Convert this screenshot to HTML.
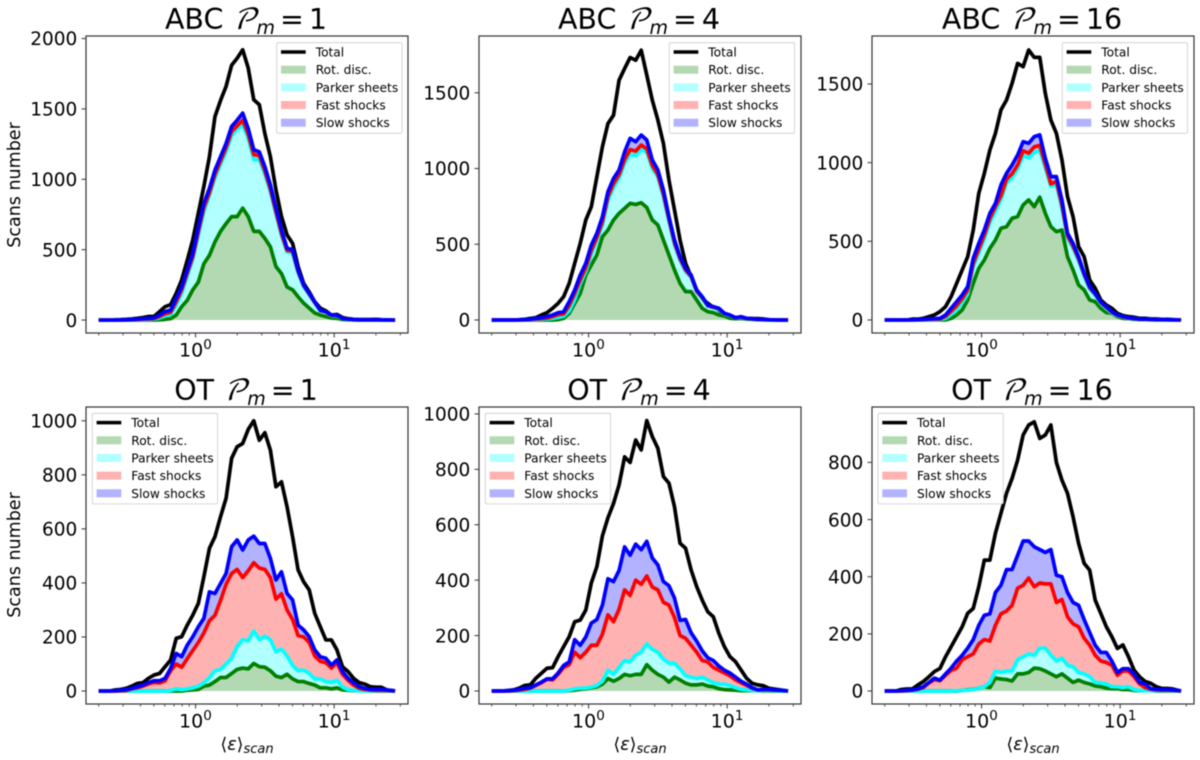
<!DOCTYPE html>
<html lang="en">
<head>
<meta charset="utf-8">
<title>Scans number histograms</title>
<style>
html,body{margin:0;padding:0;background:#fff;width:1200px;height:760px;overflow:hidden}
svg{display:block;filter:blur(0.45px)}
text{font-family:"DejaVu Sans","Liberation Sans",sans-serif;fill:#000}
.t{font-size:28.5px;text-anchor:middle}
.p{font-family:"DejaVu Math TeX Gyre","Liberation Serif",serif;font-style:italic}
.m{font-style:oblique}
.yl{font-size:17.5px;text-anchor:middle}
.xl{font-size:17.5px;text-anchor:middle}
.lg text{font-size:12.2px}
.lbox{fill:#fff;fill-opacity:.8;stroke:#ccc;stroke-width:.8}
.spine{fill:none;stroke:#333;stroke-width:1.2}
</style>
</head>
<body>
<svg id="chart" width="1200" height="760" viewBox="0 0 1200 760" xmlns="http://www.w3.org/2000/svg">

<g>
<g id="marks-abc1"></g>
<rect class="spine" x="86" y="36" width="322" height="297"/>
<g id="ticks-abc1"></g>
<text class="t" x="246" y="29">ABC <tspan class="p">𝒫</tspan><tspan class="m" font-size="19" dy="5">m</tspan><tspan dy="-5" dx="5">=</tspan><tspan dx="5">1</tspan></text>
<text class="yl" transform="translate(20,185) rotate(-90)">Scans number</text>
<g class="lg" transform="translate(276.7,42.7)">
<rect class="lbox" width="125.3" height="90.6" rx="1.5"/>
<line x1="4.3" x2="29" y1="9.3" y2="9.3" stroke="#000" stroke-width="3.5"/><text x="39" y="13.8">Total</text>
<rect x="4.3" y="23" width="24.7" height="8" fill="#008000" fill-opacity=".3"/><text x="39" y="31.5">Rot. disc.</text>
<rect x="4.3" y="40.6" width="24.7" height="8" fill="#00ffff" fill-opacity=".3"/><text x="39" y="49.1">Parker sheets</text>
<rect x="4.3" y="58.3" width="24.7" height="8" fill="#ff0000" fill-opacity=".3"/><text x="39" y="66.8">Fast shocks</text>
<rect x="4.3" y="76" width="24.7" height="8" fill="#0000ff" fill-opacity=".3"/><text x="39" y="84.5">Slow shocks</text>
</g>
</g>

<g>
<g id="marks-abc4"></g>
<rect class="spine" x="479" y="36" width="322" height="297"/>
<g id="ticks-abc4"></g>
<text class="t" x="639" y="29">ABC <tspan class="p">𝒫</tspan><tspan class="m" font-size="19" dy="5">m</tspan><tspan dy="-5" dx="5">=</tspan><tspan dx="5">4</tspan></text>
<g class="lg" transform="translate(669.3,42.7)">
<rect class="lbox" width="125.3" height="90.6" rx="1.5"/>
<line x1="4.3" x2="29" y1="9.3" y2="9.3" stroke="#000" stroke-width="3.5"/><text x="39" y="13.8">Total</text>
<rect x="4.3" y="23" width="24.7" height="8" fill="#008000" fill-opacity=".3"/><text x="39" y="31.5">Rot. disc.</text>
<rect x="4.3" y="40.6" width="24.7" height="8" fill="#00ffff" fill-opacity=".3"/><text x="39" y="49.1">Parker sheets</text>
<rect x="4.3" y="58.3" width="24.7" height="8" fill="#ff0000" fill-opacity=".3"/><text x="39" y="66.8">Fast shocks</text>
<rect x="4.3" y="76" width="24.7" height="8" fill="#0000ff" fill-opacity=".3"/><text x="39" y="84.5">Slow shocks</text>
</g>
</g>

<g>
<g id="marks-abc16"></g>
<rect class="spine" x="872" y="36" width="322" height="297"/>
<g id="ticks-abc16"></g>
<text class="t" x="1032" y="29">ABC <tspan class="p">𝒫</tspan><tspan class="m" font-size="19" dy="5">m</tspan><tspan dy="-5" dx="5">=</tspan><tspan dx="5">16</tspan></text>
<g class="lg" transform="translate(1062.3,42.7)">
<rect class="lbox" width="125.3" height="90.6" rx="1.5"/>
<line x1="4.3" x2="29" y1="9.3" y2="9.3" stroke="#000" stroke-width="3.5"/><text x="39" y="13.8">Total</text>
<rect x="4.3" y="23" width="24.7" height="8" fill="#008000" fill-opacity=".3"/><text x="39" y="31.5">Rot. disc.</text>
<rect x="4.3" y="40.6" width="24.7" height="8" fill="#00ffff" fill-opacity=".3"/><text x="39" y="49.1">Parker sheets</text>
<rect x="4.3" y="58.3" width="24.7" height="8" fill="#ff0000" fill-opacity=".3"/><text x="39" y="66.8">Fast shocks</text>
<rect x="4.3" y="76" width="24.7" height="8" fill="#0000ff" fill-opacity=".3"/><text x="39" y="84.5">Slow shocks</text>
</g>
</g>

<g>
<g id="marks-ot1"></g>
<rect class="spine" x="86" y="407" width="322" height="297"/>
<g id="ticks-ot1"></g>
<text class="t" x="246" y="400">OT <tspan class="p">𝒫</tspan><tspan class="m" font-size="19" dy="5">m</tspan><tspan dy="-5" dx="5">=</tspan><tspan dx="5">1</tspan></text>
<text class="yl" transform="translate(20,555) rotate(-90)">Scans number</text>
<text class="xl" x="247" y="750">⟨<tspan class="m">ε</tspan>⟩<tspan class="m" font-size="13" dy="3">scan</tspan></text>
<g class="lg" transform="translate(92.3,413.3)">
<rect class="lbox" width="125.3" height="90.6" rx="1.5"/>
<line x1="4.3" x2="29" y1="9.3" y2="9.3" stroke="#000" stroke-width="3.5"/><text x="39" y="13.8">Total</text>
<rect x="4.3" y="23" width="24.7" height="8" fill="#008000" fill-opacity=".3"/><text x="39" y="31.5">Rot. disc.</text>
<rect x="4.3" y="40.6" width="24.7" height="8" fill="#00ffff" fill-opacity=".3"/><text x="39" y="49.1">Parker sheets</text>
<rect x="4.3" y="58.3" width="24.7" height="8" fill="#ff0000" fill-opacity=".3"/><text x="39" y="66.8">Fast shocks</text>
<rect x="4.3" y="76" width="24.7" height="8" fill="#0000ff" fill-opacity=".3"/><text x="39" y="84.5">Slow shocks</text>
</g>
</g>

<g>
<g id="marks-ot4"></g>
<rect class="spine" x="479" y="407" width="322" height="297"/>
<g id="ticks-ot4"></g>
<text class="t" x="639" y="400">OT <tspan class="p">𝒫</tspan><tspan class="m" font-size="19" dy="5">m</tspan><tspan dy="-5" dx="5">=</tspan><tspan dx="5">4</tspan></text>
<text class="xl" x="640" y="750">⟨<tspan class="m">ε</tspan>⟩<tspan class="m" font-size="13" dy="3">scan</tspan></text>
<g class="lg" transform="translate(485.3,413.3)">
<rect class="lbox" width="125.3" height="90.6" rx="1.5"/>
<line x1="4.3" x2="29" y1="9.3" y2="9.3" stroke="#000" stroke-width="3.5"/><text x="39" y="13.8">Total</text>
<rect x="4.3" y="23" width="24.7" height="8" fill="#008000" fill-opacity=".3"/><text x="39" y="31.5">Rot. disc.</text>
<rect x="4.3" y="40.6" width="24.7" height="8" fill="#00ffff" fill-opacity=".3"/><text x="39" y="49.1">Parker sheets</text>
<rect x="4.3" y="58.3" width="24.7" height="8" fill="#ff0000" fill-opacity=".3"/><text x="39" y="66.8">Fast shocks</text>
<rect x="4.3" y="76" width="24.7" height="8" fill="#0000ff" fill-opacity=".3"/><text x="39" y="84.5">Slow shocks</text>
</g>
</g>

<g>
<g id="marks-ot16"></g>
<rect class="spine" x="872" y="407" width="322" height="297"/>
<g id="ticks-ot16"></g>
<text class="t" x="1032" y="400">OT <tspan class="p">𝒫</tspan><tspan class="m" font-size="19" dy="5">m</tspan><tspan dy="-5" dx="5">=</tspan><tspan dx="5">16</tspan></text>
<text class="xl" x="1033" y="750">⟨<tspan class="m">ε</tspan>⟩<tspan class="m" font-size="13" dy="3">scan</tspan></text>
<g class="lg" transform="translate(878,413.3)">
<rect class="lbox" width="125.3" height="90.6" rx="1.5"/>
<line x1="4.3" x2="29" y1="9.3" y2="9.3" stroke="#000" stroke-width="3.5"/><text x="39" y="13.8">Total</text>
<rect x="4.3" y="23" width="24.7" height="8" fill="#008000" fill-opacity=".3"/><text x="39" y="31.5">Rot. disc.</text>
<rect x="4.3" y="40.6" width="24.7" height="8" fill="#00ffff" fill-opacity=".3"/><text x="39" y="49.1">Parker sheets</text>
<rect x="4.3" y="58.3" width="24.7" height="8" fill="#ff0000" fill-opacity=".3"/><text x="39" y="66.8">Fast shocks</text>
<rect x="4.3" y="76" width="24.7" height="8" fill="#0000ff" fill-opacity=".3"/><text x="39" y="84.5">Slow shocks</text>
</g>
</g>
</svg>

<script>
const binCenters = [0.200,0.219,0.240,0.263,0.288,0.316,0.347,0.380,0.417,0.457,
0.501,0.550,0.603,0.661,0.725,0.794,0.871,0.955,1.047,1.148,
1.259,1.380,1.514,1.660,1.820,1.995,2.188,2.399,2.630,2.884,
3.162,3.467,3.802,4.169,4.571,5.012,5.495,6.026,6.607,7.244,
7.943,8.710,9.550,10.47,11.48,12.59,13.80,15.14,16.60,18.20,
19.95,21.88,23.99,26.30,27.50];
const xDomain = [0.162,34.1];
const xMajorTicks = [1,10];
const xMajorExponents = ['0','1'];
const xMinorTicks = [0.2,0.3,0.4,0.5,0.6,0.7,0.8,0.9,2,3,4,5,6,7,8,9,20,30];

const abc1YDomain = [-92,2018];
const abc4YDomain = [-86,1875];
const abc16YDomain = [-83,1805];
const ot1YDomain = [-48,1051];
const ot4YDomain = [-47,1025];
const ot16YDomain = [-45.5,994];
const abc1YTicks = [0,500,1000,1500,2000];
const abc4YTicks = [0,500,1000,1500];
const abc16YTicks = [0,500,1000,1500];
const ot1YTicks = [0,200,400,600,800,1000];
const ot4YTicks = [0,200,400,600,800,1000];
const ot16YTicks = [0,200,400,600,800];

const abc1Total = [0,0,0,2,3,5,8,12,18,25,
25,60,95,110,190,285,425,570,760,950,
1160,1445,1560,1660,1810,1860,1920,1790,1565,1530,
1325,1160,925,735,605,545,380,260,200,130,
85,65,35,40,18,10,5,3,3,3,
5,2,1,0,0];
const abc1Slow = [0,0,0,0,1,2,4,6,10,12,
15,35,60,70,155,235,355,475,660,830,
935,1065,1160,1255,1375,1420,1470,1360,1210,1195,
1090,960,795,640,510,500,355,250,190,130,
70,60,35,35,12,8,4,2,2,2,
3,1,1,0,0];
const abc1Fast = [0,0,0,0,0,1,2,4,6,8,
10,25,45,55,130,215,335,450,630,800,
905,1035,1130,1225,1340,1380,1420,1320,1175,1170,
1060,930,770,615,495,490,345,245,185,125,
68,58,33,33,12,8,4,2,2,2,
3,1,1,0,0];
const abc1Parker = [0,0,0,0,0,0,1,2,3,4,
6,15,30,40,105,190,310,430,600,770,
885,1010,1105,1195,1310,1355,1385,1290,1140,1140,
1035,910,755,600,485,475,335,235,180,120,
65,55,30,30,10,6,3,2,1,1,
1,0,0,0,0];
const abc1Rot = [0,0,0,0,0,0,0,0,0,0,
0,2,5,10,35,95,140,215,270,400,
460,555,630,685,735,735,795,735,630,630,
580,520,380,330,235,215,165,120,85,50,
35,25,15,12,4,2,1,0,0,0,
0,0,0,0,0];

const abc4Total = [0,0,0,0,0,2,4,10,15,33,
48,77,110,154,242,374,506,660,748,946,
1144,1297,1352,1583,1660,1733,1715,1781,1617,1451,
1320,1166,924,726,528,374,286,198,143,110,
84,66,33,26,15,15,11,9,9,7,
2,1,0,0,0];
const abc4Slow = [0,0,0,0,0,1,3,5,10,15,
22,33,48,55,121,198,297,374,495,572,
682,847,935,990,1110,1199,1177,1221,1188,1056,
990,858,682,528,418,341,297,198,154,99,
88,77,44,33,15,22,11,9,4,4,
2,1,0,0,0];
const abc4Fast = [0,0,0,0,0,0,1,3,6,9,
12,22,35,40,95,175,265,345,460,545,
650,815,900,960,1060,1125,1115,1155,1130,1020,
960,830,665,510,405,330,288,190,148,95,
84,75,42,32,15,20,10,8,4,3,
2,1,0,0,0];
const abc4Parker = [0,0,0,0,0,0,0,1,2,4,
6,10,18,25,60,135,240,320,430,525,
625,790,875,935,1035,1095,1085,1125,1110,1000,
945,815,650,495,395,320,280,185,140,90,
80,70,40,30,14,18,9,7,3,2,
1,1,0,0,0];
const abc4Rot = [0,0,0,0,0,0,0,0,0,0,
0,0,2,11,44,110,176,297,363,429,
550,594,660,704,737,770,763,774,743,660,
627,528,429,330,242,187,187,132,77,55,
48,33,26,11,8,10,6,4,2,1,
0,0,0,0,0];

const abc16Total = [0,0,0,0,0,5,5,10,21,32,
53,85,148,233,318,402,572,805,932,1080,
1186,1335,1398,1504,1631,1610,1716,1669,1669,1440,
1271,1186,1017,784,657,466,402,254,201,127,
95,74,42,28,21,17,10,10,6,6,
4,4,2,1,0];
const abc16Slow = [0,0,0,0,0,1,2,4,6,8,
10,32,74,116,159,212,392,487,572,678,
741,858,932,985,1048,1133,1123,1165,1176,1027,
911,911,763,551,487,402,297,212,169,116,
85,53,32,22,14,10,6,5,4,3,
3,2,1,1,0];
const abc16Fast = [0,0,0,0,0,0,1,2,4,5,
6,22,55,90,135,190,360,450,540,645,
720,790,895,930,985,1075,1060,1100,1110,990,
865,880,730,535,470,390,290,205,165,112,
80,50,30,20,12,9,5,4,3,2,
2,1,1,0,0];
const abc16Parker = [0,0,0,0,0,0,0,0,1,2,
3,10,35,65,110,165,335,425,515,620,
690,765,870,905,960,1045,1030,1065,1080,965,
850,860,710,520,455,375,280,195,155,105,
72,45,27,18,10,7,4,3,2,1,
1,1,0,0,0];
const abc16Rot = [0,0,0,0,0,0,0,0,0,0,
0,0,10,32,64,127,233,328,381,455,
508,583,593,646,657,731,763,720,780,678,
593,561,572,402,318,222,191,127,116,74,
47,42,21,10,8,4,3,2,1,0,
0,0,0,0,0];

const ot1Total = [0,0,0,4,6,10,18,28,31,47,
59,65,90,115,195,201,244,281,324,423,
528,571,645,713,861,904,916,968,1000,928,
956,891,756,774,682,571,448,404,374,287,
238,189,189,152,90,72,47,31,26,16,
14,14,4,1,0];
const ot1Slow = [0,0,0,1,3,6,10,16,22,31,
38,38,47,84,139,127,170,201,238,269,
367,361,398,435,534,559,522,559,573,546,
546,491,411,441,361,337,244,226,201,152,
127,121,96,115,72,47,31,16,10,6,
6,6,4,2,0];
const ot1Fast = [0,0,0,0,1,2,8,12,18,26,
32,30,38,75,100,88,120,150,180,215,
260,280,335,395,435,450,420,445,475,455,
450,420,340,360,300,265,205,200,180,130,
110,105,85,105,62,40,22,10,6,4,
3,3,2,1,0];
const ot1Parker = [0,0,0,0,0,0,0,0,0,0,
0,0,0,2,8,5,8,12,18,30,
50,75,80,100,121,165,190,186,222,190,
203,190,145,155,130,95,75,78,65,45,
45,35,32,40,15,5,3,1,1,1,
1,1,0,0,0];
const ot1Rot = [0,0,0,0,0,0,0,0,0,0,
0,0,0,0,0,0,3,4,6,18,
22,35,50,50,65,80,85,82,102,90,
88,75,55,50,62,45,35,35,28,22,
12,12,8,12,4,3,2,1,1,0,
0,0,0,0,0];

const ot4Total = [0,0,0,2,4,10,20,22,46,64,
82,84,124,160,196,250,256,292,390,449,
560,625,677,744,845,825,906,870,976,918,
876,774,750,665,533,515,437,377,328,286,
268,208,160,124,106,76,46,28,22,19,
10,7,4,1,0];
const ot4Slow = [0,0,0,1,3,6,10,12,22,32,
44,44,65,92,105,185,165,195,245,258,
310,405,395,435,520,490,530,510,540,480,
455,395,380,335,255,258,210,180,145,120,
110,90,75,65,50,35,25,12,4,6,
6,4,3,1,0];
const ot4Fast = [0,0,0,0,1,3,6,10,20,30,
42,40,60,85,95,140,120,140,165,165,
205,275,250,295,365,345,400,385,415,375,
365,320,310,265,200,190,165,140,110,105,
85,75,65,55,40,30,20,10,4,4,
4,3,2,1,0];
const ot4Parker = [0,0,0,0,0,0,0,0,0,0,
0,0,0,0,3,8,10,10,14,20,
35,75,60,85,110,105,130,140,170,150,
140,115,100,100,80,55,50,45,50,40,
30,25,25,20,12,6,4,2,1,1,
1,1,0,0,0];
const ot4Rot = [0,0,0,0,0,0,0,0,0,0,
0,0,0,0,1,3,6,8,12,15,
25,45,35,45,60,55,60,60,95,75,
60,50,32,50,40,28,22,22,25,18,
15,8,5,4,3,1,1,1,1,0,
0,0,0,0,0];

const ot16Total = [0,0,0,5,7,7,21,33,50,68,
79,120,155,190,225,272,289,365,458,458,
552,622,692,744,808,896,931,942,884,896,
931,800,738,692,610,517,447,423,318,272,
225,190,149,161,120,73,50,33,27,15,
9,9,7,2,0];
const ot16Slow = [0,0,0,1,3,4,8,15,30,45,
38,60,80,105,125,150,180,230,265,270,
345,370,425,425,475,525,525,505,495,485,
495,405,400,345,310,300,250,205,160,135,
135,105,65,78,78,60,30,25,8,6,
5,5,4,2,0];
const ot16Fast = [0,0,0,0,1,3,6,12,28,40,
36,55,72,80,110,120,130,165,180,175,
230,270,280,300,360,370,395,365,378,375,
375,310,320,260,235,225,185,160,125,105,
100,90,55,70,70,50,25,12,6,4,
3,3,2,1,0];
const ot16Parker = [0,0,0,0,0,0,0,0,0,0,
0,0,0,1,2,3,5,10,15,30,
70,65,70,70,110,120,130,125,150,150,
125,105,115,90,85,65,60,50,30,28,
25,15,15,12,15,5,2,1,1,1,
1,1,0,0,0];
const ot16Rot = [0,0,0,0,0,0,0,0,0,0,
0,0,0,0,2,4,6,10,15,12,
45,42,40,35,60,60,65,80,78,70,
60,50,60,45,30,38,30,25,18,15,
10,8,8,5,5,2,1,1,1,0,
0,0,0,0,0];

const SVGNS = 'http://www.w3.org/2000/svg';
function el(tag, attrs, parent) {
  const node = document.createElementNS(SVGNS, tag);
  for (const k in attrs) node.setAttribute(k, attrs[k]);
  parent.appendChild(node);
  return node;
}
function makeXScale(left, width) {
  const lo = Math.log10(xDomain[0]);
  const hi = Math.log10(xDomain[1]);
  return v => left + (Math.log10(v) - lo) / (hi - lo) * width;
}
function makeYScale(top, height, domain) {
  return v => top + height - (v - domain[0]) / (domain[1] - domain[0]) * height;
}
function linePath(values, sx, sy) {
  return values.map((v, i) => (i ? 'L' : 'M') + sx(binCenters[i]).toFixed(2) + ' ' + sy(v).toFixed(2)).join('');
}
function bandPath(lower, upper, sx, sy) {
  let d = linePath(upper, sx, sy);
  for (let i = lower.length - 1; i >= 0; i--) {
    d += 'L' + sx(binCenters[i]).toFixed(2) + ' ' + sy(lower[i]).toFixed(2);
  }
  return d + 'Z';
}
function drawBand(group, lower, upper, color, sx, sy) {
  return el('path', {d: bandPath(lower, upper, sx, sy), fill: color, 'fill-opacity': 0.3, stroke: 'none'}, group);
}
function drawLine(group, values, color, sx, sy) {
  return el('path', {d: linePath(values, sx, sy), fill: 'none', stroke: color, 'stroke-width': 3.7, 'stroke-linejoin': 'round'}, group);
}
function drawPanel(key, left, top, yDomain, yTicks, total, rot, parker, fast, slow) {
  const width = 322, height = 297;
  const sx = makeXScale(left, width);
  const sy = makeYScale(top, height, yDomain);
  const marks = document.getElementById('marks-' + key);
  const ticks = document.getElementById('ticks-' + key);
  const zero = rot.map(() => 0);

  const rotFill = drawBand(marks, zero, rot, '#008000', sx, sy);
  
  
  const parkerFill = drawBand(marks, rot, parker, '#00ffff', sx, sy);
  
  
  const fastFill = drawBand(marks, parker, fast, '#ff0000', sx, sy);
  
  
  const slowFill = drawBand(marks, fast, slow, '#0000ff', sx, sy);
  
  

  const totalLine = drawLine(marks, total, '#000000', sx, sy);
  
  
  const rotLine = drawLine(marks, rot, '#008000', sx, sy);
  
  
  const parkerLine = drawLine(marks, parker, '#00ffff', sx, sy);
  
  
  const fastLine = drawLine(marks, fast, '#ff0000', sx, sy);
  
  
  const slowLine = drawLine(marks, slow, '#0000ff', sx, sy);
  
  

  const bottom = top + height;
  yTicks.forEach(v => {
    const y = sy(v);
    const mark = el('line', {x1: left - 4.5, x2: left, y1: y, y2: y, stroke: '#333', 'stroke-width': 1}, ticks);
    
    
    const label = el('text', {x: left - 8.7, y: y + 6.7, 'text-anchor': 'end', 'font-size': 18.5}, ticks);
    label.textContent = String(v);
    
    
  });
  xMinorTicks.forEach(v => {
    const x = sx(v);
    const mark = el('line', {x1: x, x2: x, y1: bottom, y2: bottom + 2.6, stroke: '#333', 'stroke-width': 0.8}, ticks);
    
    
  });
  xMajorTicks.forEach((v, i) => {
    const x = sx(v);
    const mark = el('line', {x1: x, x2: x, y1: bottom, y2: bottom + 4.5, stroke: '#333', 'stroke-width': 1}, ticks);
    
    
    const label = el('text', {x: x - 16.5, y: bottom + 23.5, 'font-size': 19}, ticks);
    
    
    label.appendChild(document.createTextNode('10'));
    const sup = el('tspan', {'font-size': 13.5, dy: -7.5}, label);
    sup.textContent = xMajorExponents[i];
  });
}

drawPanel('abc1', 86, 36, abc1YDomain, abc1YTicks, abc1Total, abc1Rot, abc1Parker, abc1Fast, abc1Slow);
drawPanel('abc4', 479, 36, abc4YDomain, abc4YTicks, abc4Total, abc4Rot, abc4Parker, abc4Fast, abc4Slow);
drawPanel('abc16', 872, 36, abc16YDomain, abc16YTicks, abc16Total, abc16Rot, abc16Parker, abc16Fast, abc16Slow);
drawPanel('ot1', 86, 407, ot1YDomain, ot1YTicks, ot1Total, ot1Rot, ot1Parker, ot1Fast, ot1Slow);
drawPanel('ot4', 479, 407, ot4YDomain, ot4YTicks, ot4Total, ot4Rot, ot4Parker, ot4Fast, ot4Slow);
drawPanel('ot16', 872, 407, ot16YDomain, ot16YTicks, ot16Total, ot16Rot, ot16Parker, ot16Fast, ot16Slow);
</script>
</body>
</html>
